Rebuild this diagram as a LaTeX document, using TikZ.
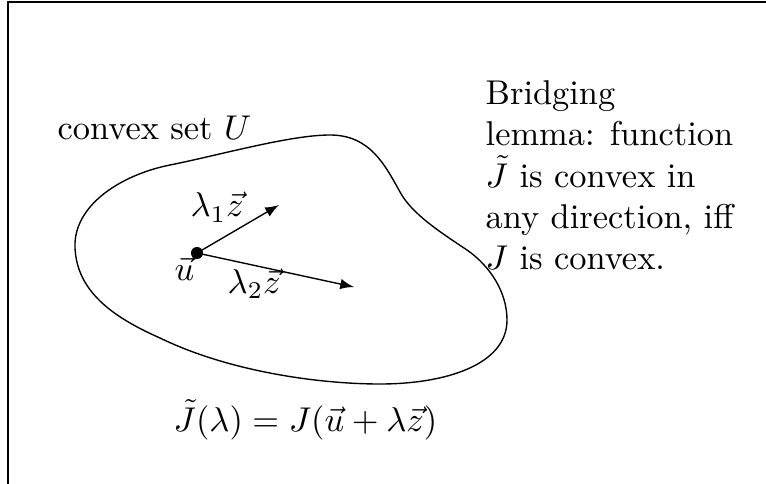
\documentclass[tikz,border=0pt]{standalone}
\usetikzlibrary{arrows}
\begin{document}
\begin{tikzpicture}[x=0.2907pt,y=-0.2907pt,
  lbl/.style={inner sep=0pt,anchor=base west},
  vecarrow/.style={->,>=latex,line width=0.4pt}]
\useasboundingbox (0,0) rectangle (766,484);
% frame
\draw[line width=0.4pt] (8,484) -- (8,2) -- (766,2);
% convex set
\draw[line width=0.4pt] (75,248)
  .. controls (73,206) and (120,175) .. (170,165)
  .. controls (220,155) and (290,135) .. (330,135)
  .. controls (370,135) and (385,165) .. (400,192)
  .. controls (412,214) and (440,232) .. (467,250)
  .. controls (490,266) and (507,292) .. (507,320)
  .. controls (507,365) and (445,384) .. (380,384)
  .. controls (320,384) and (230,372) .. (160,338)
  .. controls (110,316) and (77,290) .. (75,248) -- cycle;
% point and vectors
\node[circle,fill,inner sep=0pt,minimum size=3.5pt] (u) at (197,253) {};
\coordinate (e1) at (279,205);
\coordinate (e2) at (354,287);
\draw[vecarrow] (u.center) -- (e1);
\draw[vecarrow] (u.center) -- (e2);
% labels
\node[lbl] (lu) at (174,280) {$\vec{u}$};
\node[lbl] (l1) at (190,217) {$\lambda_1\vec{z}$};
\node[lbl] (l2) at (227,293) {$\lambda_2\vec{z}$};
\node[lbl] (setU) at (57,140) {convex set $U$};
\node[lbl] (form) at (173,431) {$\tilde{J}(\lambda)=J(\vec{u}+\lambda\vec{z})$};
\node[inner sep=0pt,anchor=north west,align=left] (lemma) at (485,80)
  {Bridging\\lemma: function\\$\tilde{J}$ is convex in\\any direction, iff\\$J$ is convex.};
\end{tikzpicture}
\end{document}
